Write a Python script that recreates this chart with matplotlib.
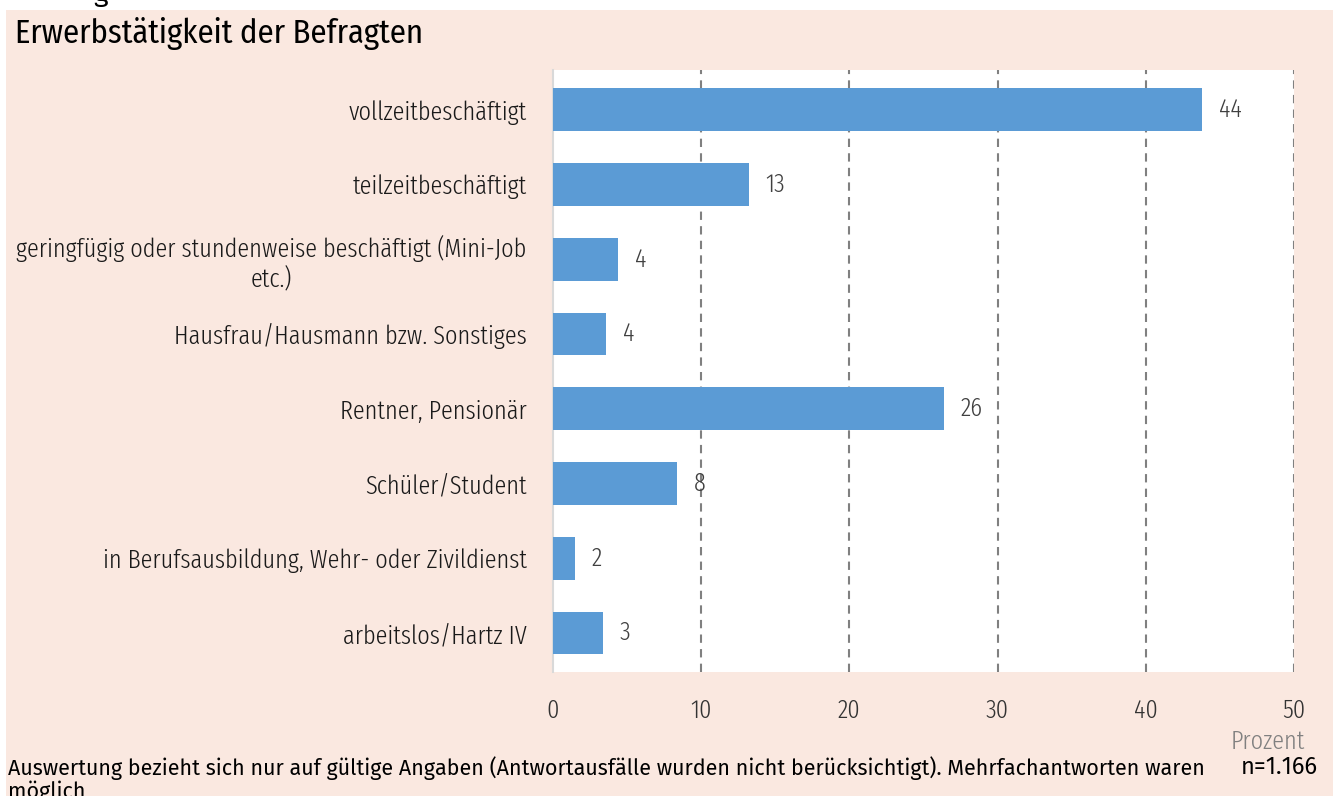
import matplotlib
matplotlib.use("Agg")
import matplotlib.pyplot as plt
from matplotlib import font_manager as fm
from matplotlib.patches import Rectangle

names = {f.name for f in fm.fontManager.ttflist}


def pick(prefs):
    for p in prefs:
        if p in names:
            return p
    return "DejaVu Sans"


xcond = pick(["Fira Sans Extra Condensed", "Fira Sans Condensed", "IBM Plex Sans Condensed"])
cond = pick(["Fira Sans Condensed", "IBM Plex Sans Condensed", "Fira Sans Extra Condensed"])
normal = pick(["Fira Sans", "Source Sans 3", "Open Sans"])

categories = [
    "vollzeitbeschäftigt",
    "teilzeitbeschäftigt",
    "geringfügig oder stundenweise beschäftigt (Mini-Job\netc.)",
    "Hausfrau/Hausmann bzw. Sonstiges",
    "Rentner, Pensionär",
    "Schüler/Student",
    "in Berufsausbildung, Wehr- oder Zivildienst",
    "arbeitslos/Hartz IV",
]
values = [43.8, 13.2, 4.4, 3.6, 26.4, 8.4, 1.5, 3.4]
value_labels = ["44", "13", "4", "4", "26", "8", "2", "3"]
xticks = [0, 10, 20, 30, 40, 50]

W, H = 1333, 796
fig = plt.figure(figsize=(W / 100, H / 100), dpi=100)
fig.patch.set_facecolor("white")
peach = "#FAE8E0"
fig.patches.append(Rectangle((6 / W, 0), 1 - 6 / W, 1 - 10 / H, transform=fig.transFigure,
                             facecolor=peach, edgecolor="none", zorder=-10))

ax = fig.add_axes([553 / W, 1 - 672 / H, (1294 - 553) / W, (672 - 70) / H])
ax.set_facecolor("white")
ypos = list(range(len(categories)))
ax.barh(ypos, values, height=0.57, color="#5B9BD5", zorder=3)
ax.set_ylim(7.52, -0.53)
ax.set_xlim(0, 50)
ax.set_xticks(xticks)
ax.set_xticklabels([str(t) for t in xticks], fontsize=19, color="#333333", family=xcond,
                   fontweight=300)
ax.tick_params(axis="x", length=0, pad=19)
ax.set_yticks(ypos)
ax.set_yticklabels(categories, fontsize=19, color="#1a1a1a", family=xcond, fontweight=300,
                   multialignment="center")
ax.tick_params(axis="y", length=0, pad=19)
for s in ["top", "right", "bottom"]:
    ax.spines[s].set_visible(False)
ax.spines["left"].set_color("#D9D9D9")
ax.spines["left"].set_linewidth(1.5)
for t in xticks[1:]:
    ax.axvline(t, color="#808080", linestyle=(0, (4, 3)), linewidth=1.5, zorder=2)
for y, v, lab in zip(ypos, values, value_labels):
    ax.annotate(lab, (v, y), xytext=(12, 0), textcoords="offset points", va="center", ha="left",
                fontsize=19, color="#404040", family=xcond, fontweight=300, zorder=4)

fig.text(15 / W, 1 - 33 / H, "Erwerbstätigkeit der Befragten", fontsize=23.5, family=cond,
         va="center", ha="left", color="black")
fig.text(1305 / W, 1 - 742 / H, "Prozent", fontsize=19, family=xcond, fontweight=300,
         color="#808080", va="center", ha="right")
fig.text(8 / W, 1 - 756 / H,
         "Auswertung bezieht sich nur auf gültige Angaben (Antwortausfälle wurden nicht berücksichtigt). Mehrfachantworten waren\nmöglich",
         fontsize=15.5, family=normal, color="black", va="top", ha="left", linespacing=1.05)
fig.text(1318 / W, 1 - 767 / H, "n=1.166", fontsize=17, family=normal, color="black",
         va="center", ha="right")
fig.text(93 / W, 1 + 6 / H, "g", fontsize=20, family=normal, va="center")

fig.savefig("out.png", dpi=100, facecolor=fig.get_facecolor())
